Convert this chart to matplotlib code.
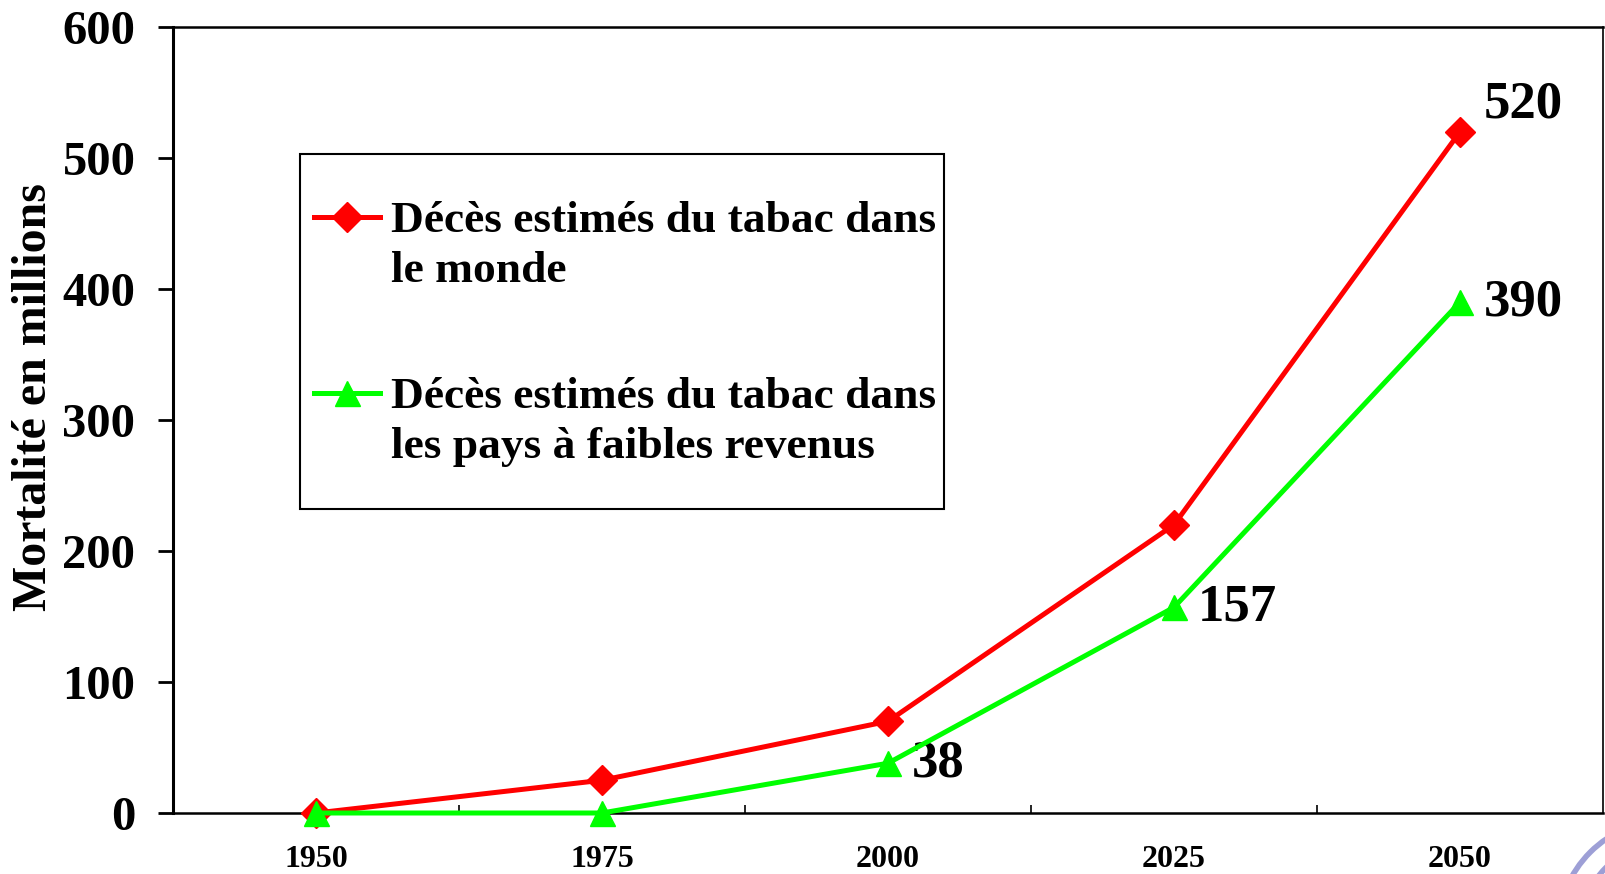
import matplotlib
matplotlib.use("Agg")
import matplotlib.pyplot as plt
from matplotlib.ticker import FixedLocator
from matplotlib.patches import Rectangle, Arc
from matplotlib.offsetbox import TextArea
from matplotlib.legend_handler import HandlerLine2D
from matplotlib.transforms import Affine2D

years = ["1950", "1975", "2000", "2025", "2050"]
monde = [0, 25, 70, 220, 520]
faibles = [0, 0, 38, 157, 390]
label_monde = "Décès estimés du tabac dans\nle monde"
label_faibles = "Décès estimés du tabac dans\nles pays à faibles revenus"
ylabel = "Mortalité en millions"
yticks = [0, 100, 200, 300, 400, 500, 600]
annot_faibles = {2: "38", 3: "157", 4: "390"}
annot_monde = {4: "520"}

plt.rcParams['font.family'] = ['Liberation Serif', 'DejaVu Serif']
plt.rcParams['font.weight'] = 'bold'

W, H = 1606, 874
fig = plt.figure(figsize=(W / 100, H / 100), dpi=100)
ax = fig.add_axes([173 / W, 1 - 813 / H, 1430 / W, 786 / H])

x = list(range(len(years)))
l1, = ax.plot(x, monde, color='#FF0000', lw=3.6, marker='D', ms=15, mec='#FF0000',
              label=label_monde, zorder=3, clip_on=False)
l2, = ax.plot(x, faibles, color='#00FF00', lw=3.6, marker='^', ms=18, mec='#00FF00',
              label=label_faibles, zorder=4, clip_on=False)

for i, t in annot_faibles.items():
    ax.annotate(t, (x[i], faibles[i]), xytext=(17, 0), textcoords='offset points',
                ha='left', va='center', fontsize=38, fontweight='bold')
for i, t in annot_monde.items():
    ax.annotate(t, (x[i], monde[i]), xytext=(17, 20), textcoords='offset points',
                ha='left', va='center', fontsize=38, fontweight='bold')

ax.set_xlim(-0.5, len(years) - 0.5)
ax.set_ylim(0, 600)
ax.set_yticks(yticks)
ax.set_yticklabels([str(v) for v in yticks], fontsize=35, fontweight='bold')
ax.set_xticks(x)
ax.set_xticklabels(years, fontsize=23, fontweight='bold')
ax.xaxis.set_minor_locator(FixedLocator([i + 0.5 for i in x[:-1]]))
ax.tick_params(axis='x', which='major', length=0, pad=23)
ax.tick_params(axis='x', which='minor', direction='in', length=6, width=1.2)
ax.tick_params(axis='y', which='major', direction='out', length=11, width=2, pad=16)

ax.spines['left'].set_linewidth(2.2)
ax.spines['bottom'].set_linewidth(1.8)
ax.spines['top'].set_linewidth(1.8)
ax.spines['right'].set_linewidth(1.2)

ax.set_ylabel(ylabel, fontsize=34.5, fontweight='bold')
ax.yaxis.set_label_coords(-0.0817, 0.529)

# legend frame
fig.patches.append(Rectangle((300 / W, 1 - 509 / H), 644 / W, 355 / H,
                             transform=fig.transFigure, fill=False,
                             edgecolor='black', lw=1.5, zorder=5))

LEG_FS = 32.7
LINESP = 1.33
LINE_PT = 49 / 1.389  # vertical shift of the handle, in points


class FirstLineHandler(HandlerLine2D):
    """Place the legend handle on the first line of a two-line label."""

    def create_artists(self, legend, orig_handle, xdescent, ydescent, width,
                       height, fontsize, trans):
        arts = super().create_artists(legend, orig_handle, xdescent, ydescent,
                                      width, height, fontsize, trans)
        shifted = Affine2D().translate(0, LINE_PT) + trans
        for a in arts:
            a.set_transform(shifted)
        return arts


leg = ax.legend(loc='upper left', bbox_to_anchor=(314 / W, 1 - 201 / H),
                bbox_transform=fig.transFigure, fontsize=LEG_FS, frameon=False,
                handlelength=1.45, handletextpad=0.24, labelspacing=1.88,
                borderpad=0, borderaxespad=0, markerscale=1.0,
                handler_map={l1: FirstLineHandler(), l2: FirstLineHandler()})
for ta in leg.findobj(TextArea):
    ta.set_multilinebaseline(False)
for t in leg.get_texts():
    t.set_linespacing(LINESP)

# logo fragment in the bottom-right corner
for r in (110, 88):
    fig.patches.append(Arc((1668 / W, 1 - 930 / H), 2 * r / W, 2 * r / H,
                           theta1=90, theta2=180, transform=fig.transFigure,
                           color='#9d9fd6', lw=4))

fig.savefig("out.png", dpi=100)
